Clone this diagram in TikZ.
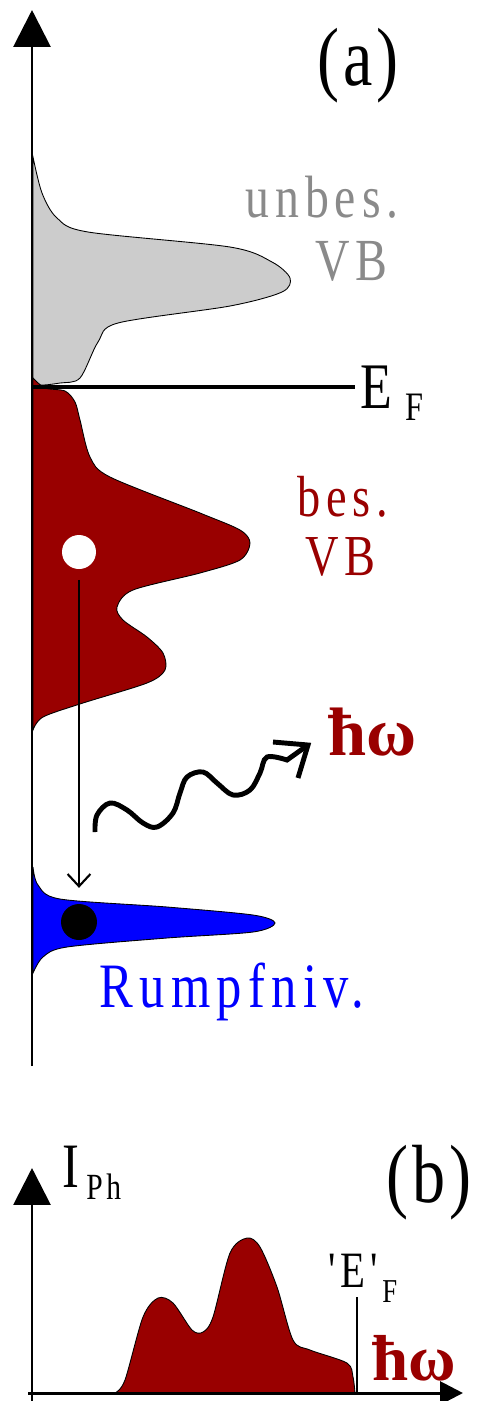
\documentclass[tikz,border=0pt]{standalone}
\usepackage{fontspec}
\setmainfont{Liberation Serif}
\newfontfamily\lblfont[FakeStretch=0.8,LetterSpace=10]{Liberation Serif}
\newfontfamily\pnlfont[FakeStretch=0.8,LetterSpace=5]{Liberation Serif}
\usetikzlibrary{arrows.meta}
\definecolor{cgray}{HTML}{CCCCCC}
\definecolor{ctext}{HTML}{8A8A8A}
\definecolor{cdark}{HTML}{990000}
\definecolor{cblau}{HTML}{0000FF}
\tikzset{
  every picture/.style={x=0.02cm, y=-0.02cm},
  axis/.style={line width=1.7pt, -{Triangle[length=21pt, width=21pt]}},
  haxis/.style={line width=1.7pt, -{Triangle[length=13pt, width=13pt]}},
  dos/.style={draw=black, line width=0.5pt, fill=#1},
  lbl/.style={inner sep=0pt, anchor=base west, font=\lblfont\fontsize{#1}{#1}\selectfont},
  pnl/.style={inner sep=0pt, anchor=base west, font=\pnlfont\fontsize{47}{47}\selectfont},
  hw/.style={inner sep=0pt, anchor=base west, text=cdark, font=\bfseries\fontsize{#1}{#1}\selectfont},
  dot/.style={circle, inner sep=0pt, minimum size=#1},
  trans/.style={line width=1.2pt, -{Straight Barb[length=7pt, width=13pt]}},
  photon/.style={line width=2.8pt, line join=miter},
}
\begin{document}
\begin{tikzpicture}
  \useasboundingbox (0,0) rectangle (477,1401);
  % (a) density of states
  \draw[dos=cgray] plot[smooth, tension=0.5] coordinates {(33,157) (42,193) (57,218) (88,232) (230,247)
    (272,262) (290,278) (282,292) (230,306) (118,323) (98,342) (80,378) (60,383) (40,385) (33,380)} -- cycle;
  \draw[dos=cdark] plot[smooth, tension=0.5] coordinates {(33,378) (45,388) (65,391) (75,402) (80,420)
    (90,457) (110,477) (200,513) (240,530) (250,543) (240,560) (200,573) (133,590) (117,607) (123,620)
    (147,637) (163,653) (165,670) (147,683) (83,703) (43,717) (33,730)} -- cycle;
  \draw[dos=cblau] plot[smooth, tension=0.5] coordinates {(33,867) (38,885) (60,899) (167,907) (253,915)
    (275,923) (253,932) (167,938) (67,947) (43,957) (33,973)} -- cycle;
  \draw[axis] (32,1066) -- (32,10);
  \draw[line width=2.4pt] (32,387) -- (355,387);
  \node[dot=0.68cm, fill=white] (hole) at (79,552) {};
  \node[dot=0.72cm, fill=black] (electron) at (79,922) {};
  \draw[trans, shorten <=6pt, shorten >=9pt] (hole) -- (electron);
  \coordinate (ph0) at (95,832);
  \coordinate (ph1) at (287,760);
  \coordinate (phtip) at (308,745);
  \draw[photon] plot[smooth, tension=0.6] coordinates {(ph0) (97,815) (110,803) (127,810) (143,823)
    (157,827) (173,813) (180,793) (187,777) (203,772) (217,783) (233,795) (250,790) (260,773) (267,757)
    (ph1)} -- (phtip);
  \draw[photon] (273,742) -- (phtip) -- (298,778);
  \node[pnl] (panela) at (317,85) {(a)};
  \node[lbl=34pt, text=ctext] (unbes) at (245,217) {unbes.};
  \node[lbl=34pt, text=ctext] (vbu) at (315,280) {VB};
  \node[lbl=37pt] (ef) at (360,408) {E};
  \node[lbl=23pt] (efsub) at (405,420) {F};
  \node[lbl=33pt, text=cdark] (bes) at (297,516) {bes.};
  \node[lbl=33pt, text=cdark] (vbb) at (305,575) {VB};
  \node[hw=39pt] (hwa) at (328,755) {ħω};
  \node[lbl=36pt, text=cblau] (rumpf) at (99,1007) {Rumpfniv.};
  % (b) spectrum
  \draw[dos=cdark] plot[smooth, tension=0.5] coordinates {(115,1393) (125,1380) (143,1317) (158,1298)
    (173,1303) (192,1330) (203,1332) (213,1317) (230,1253) (247,1238) (260,1247) (277,1287) (293,1340)
    (310,1350) (347,1363) (353,1377) (355,1393)} -- cycle;
  \draw[axis] (32,1401) -- (32,1168);
  \draw[haxis] (28,1393) -- (463,1393);
  \draw[line width=1.7pt] (357,1297) -- (357,1393);
  \node[pnl] (panelb) at (386,1202) {(b)};
  \node[lbl=36pt] (iph) at (62,1187) {I};
  \node[lbl=21pt] (iphsub) at (86,1199) {Ph};
  \node[lbl=29pt] (efb) at (328,1287) {'E'};
  \node[lbl=19pt] (efbsub) at (382,1302) {F};
  \node[hw=37pt] (hwb) at (372,1380) {ħω};
\end{tikzpicture}
\end{document}
